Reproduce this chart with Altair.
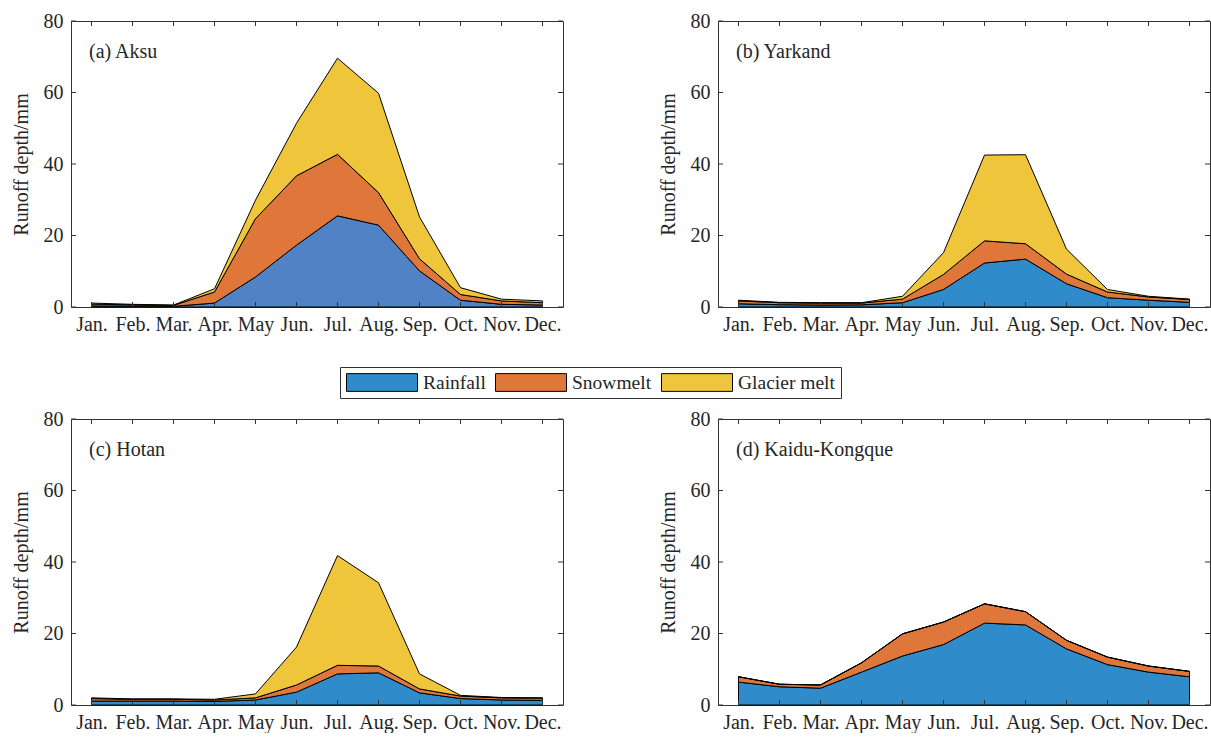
import altair as alt
import pandas as pd

months = ["Jan.", "Feb.", "Mar.", "Apr.", "May", "Jun.", "Jul.", "Aug.", "Sep.", "Oct.", "Nov.", "Dec."]
components = ["Rainfall", "Snowmelt", "Glacier melt"]
basins = ["(a) Aksu", "(b) Yarkand", "(c) Hotan", "(d) Kaidu-Kongque"]
y_ticks = [0, 20, 40, 60, 80]

# runoff depth (mm) of each component, per month
aksu_rain = [0.3, 0.25, 0.2, 1.1, 8.4, 17.3, 25.5, 22.9, 10.1, 1.9, 0.75, 0.55]
aksu_snow = [0.5, 0.35, 0.25, 3.1, 16.3, 19.4, 17.2, 9.1, 3.4, 1.6, 0.95, 0.65]
aksu_glacier = [0.3, 0.15, 0.1, 0.9, 5.2, 14.7, 26.9, 27.8, 11.7, 1.9, 0.5, 0.5]

yarkand_rain = [0.9, 0.65, 0.55, 0.6, 1.2, 4.9, 12.3, 13.4, 6.5, 2.6, 1.9, 1.3]
yarkand_snow = [0.8, 0.55, 0.55, 0.5, 1.0, 4.2, 6.2, 4.3, 2.7, 1.6, 0.9, 0.8]
yarkand_glacier = [0.2, 0.1, 0.1, 0.1, 0.8, 6.1, 24.0, 24.9, 7.0, 0.7, 0.2, 0.1]

hotan_rain = [1.1, 1.1, 1.1, 1.0, 1.4, 3.6, 8.7, 9.0, 3.4, 1.8, 1.4, 1.3]
hotan_snow = [0.7, 0.5, 0.5, 0.4, 0.6, 2.0, 2.4, 1.9, 1.1, 0.7, 0.6, 0.6]
hotan_glacier = [0.2, 0.1, 0.1, 0.2, 1.1, 10.6, 30.7, 23.3, 4.2, 0.2, 0.1, 0.1]

kaidu_rain = [6.4, 5.1, 4.7, 9.2, 13.7, 16.9, 22.9, 22.4, 15.7, 11.3, 9.2, 7.9]
kaidu_snow = [1.5, 0.7, 0.9, 2.6, 6.2, 6.3, 5.4, 3.7, 2.4, 2.1, 1.7, 1.5]
kaidu_glacier = [0, 0, 0, 0, 0, 0, 0, 0, 0, 0, 0, 0]

series = {
    basins[0]: (aksu_rain, aksu_snow, aksu_glacier),
    basins[1]: (yarkand_rain, yarkand_snow, yarkand_glacier),
    basins[2]: (hotan_rain, hotan_snow, hotan_glacier),
    basins[3]: (kaidu_rain, kaidu_snow, kaidu_glacier),
}

rows = []
for b, comps in series.items():
    for ci, vals in enumerate(comps):
        key = components[ci]
        if b == basins[0] and ci == 0:
            key = "Rainfall (a)"
        for m, v in zip(months, vals):
            rows.append({"basin": b, "month": m, "key": key, "ord": ci, "value": v})
df = pd.DataFrame(rows)
month_df = pd.DataFrame({"month": months})
tick_df = pd.DataFrame({"tick": y_ticks})

FONT = "Liberation Serif"
W, H = 492, 286
FRAME = "#333333"

color_scale = alt.Scale(
    domain=components + ["Rainfall (a)"],
    range=["#2f8bca", "#e0773a", "#efc63b", "#5182c5"],
)
legend = alt.Legend(
    orient="none", legendX=269, legendY=346, direction="horizontal", columns=3,
    title=None, values=components,
    symbolType="M-1,-0.25H1V0.25H-1Z", symbolSize=5041,
    symbolStrokeColor="black", symbolStrokeWidth=1, symbolOpacity=1,
    labelFont=FONT, labelFontSize=19.5, labelColor="#262626", labelOffset=5,
    columnPadding=9, padding=6, strokeColor=FRAME, clipHeight=19,
)

x_axis = alt.Axis(labelAngle=0, labelPadding=7, labelOverlap=False, labelBound=False,
                  labelFlush=False)
y_axis = alt.Axis(values=y_ticks, labelPadding=8, titlePadding=12)
y_scale = alt.Scale(domain=[0, 80], nice=False, zero=True)


def xenc():
    return alt.X("month:O", sort=months, title=None,
                 scale=alt.Scale(type="point", padding=0.5, domain=months), axis=x_axis)


def panel(b):
    area = alt.Chart(df).transform_filter(alt.datum.basin == b).mark_area(
        stroke="black", strokeWidth=1, opacity=1, strokeJoin="miter"
    ).encode(
        x=xenc(),
        y=alt.Y("value:Q", stack="zero", title="Runoff depth/mm", scale=y_scale, axis=y_axis),
        color=alt.Color("key:N", scale=color_scale, legend=legend),
        order=alt.Order("ord:Q", sort="ascending"),
    )
    xt_bottom = alt.Chart(month_df).mark_rule(color=FRAME, strokeWidth=1).encode(
        x=xenc(), y=alt.value(H), y2=alt.value(H - 5))
    xt_top = alt.Chart(month_df).mark_rule(color=FRAME, strokeWidth=1).encode(
        x=xenc(), y=alt.value(0), y2=alt.value(5))
    yt_left = alt.Chart(tick_df).mark_rule(color=FRAME, strokeWidth=1).encode(
        y=alt.Y("tick:Q", title="Runoff depth/mm", scale=y_scale, axis=y_axis),
        x=alt.value(0), x2=alt.value(5))
    yt_right = alt.Chart(tick_df).mark_rule(color=FRAME, strokeWidth=1).encode(
        y=alt.Y("tick:Q", title="Runoff depth/mm", scale=y_scale, axis=y_axis),
        x=alt.value(W), x2=alt.value(W - 5))
    label = alt.Chart(pd.DataFrame({"label": [b]})).mark_text(
        align="left", baseline="middle", font=FONT, fontSize=20, color="#262626"
    ).encode(text="label:N", x=alt.value(18), y=alt.value(31))
    return alt.layer(area, xt_bottom, xt_top, yt_left, yt_right, label).properties(width=W, height=H)


chart = alt.concat(
    *[panel(b) for b in basins], columns=2, bounds="flush",
    spacing=alt.RowColnumber(row=112, column=155),
).resolve_scale(color="shared").properties(
    padding={"left": 10, "top": 10, "right": 0, "bottom": 0},
    background="white",
).configure_view(
    stroke=FRAME, strokeWidth=1
).configure_axis(
    domain=False, ticks=False, grid=False,
    labelFont=FONT, labelFontSize=20, labelColor="#262626",
    titleFont=FONT, titleFontSize=20, titleFontWeight="normal", titleColor="#262626",
)

chart.save("out.html", embed_options={"renderer": "svg", "actions": False})
